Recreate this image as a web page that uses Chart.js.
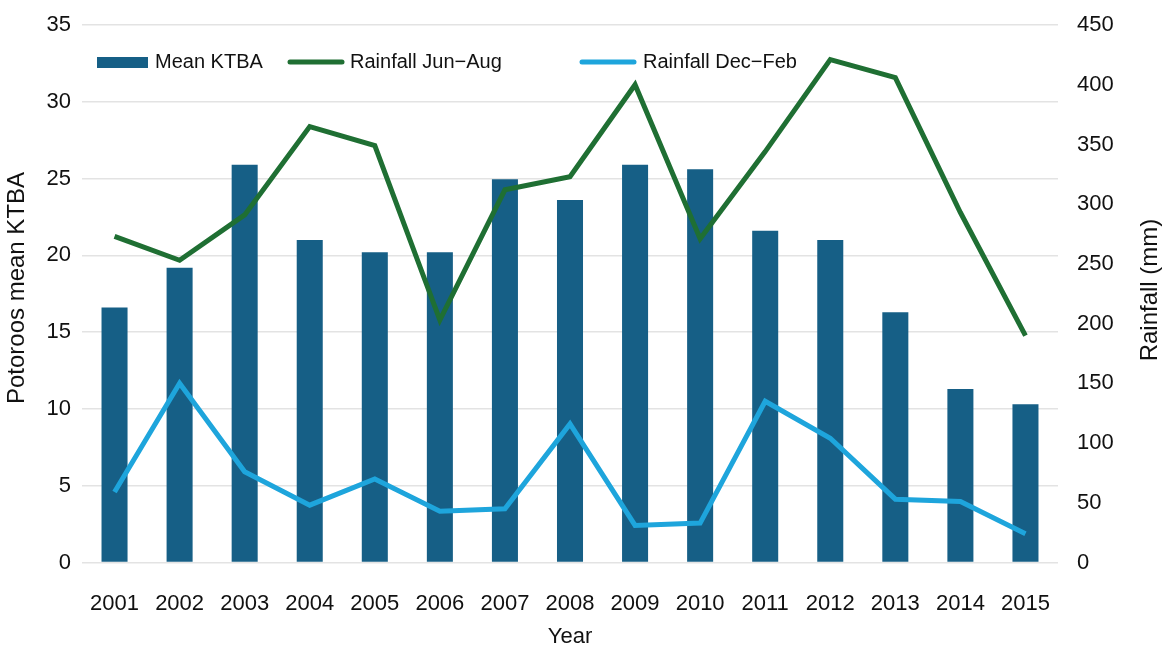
<!DOCTYPE html>
<html>
<head>
<meta charset="utf-8">
<script src="https://cdn.jsdelivr.net/npm/chart.js@4"></script>
<style>
  html, body { margin: 0; padding: 0; background: #fff; }
  #wrap { width: 1171px; height: 658px; }
</style>
</head>
<body>
<div id="wrap"><canvas id="myChart"></canvas></div>
<script>
var years = ["2001","2002","2003","2004","2005","2006","2007","2008","2009","2010","2011","2012","2013","2014","2015"];
var meanKTBA = [16.6, 19.2, 25.9, 21.0, 20.2, 20.2, 24.95, 23.6, 25.9, 25.6, 21.6, 21.0, 16.3, 11.3, 10.3];
var rainJunAug = [273, 253, 291, 365, 349, 203, 312, 323, 400, 271, 344, 421, 406, 293, 190];
var rainDecFeb = [59, 150, 76, 48, 70, 43, 45, 116, 31, 33, 135, 104, 53, 51, 24];
var leftTicks = [0, 5, 10, 15, 20, 25, 30, 35];
var rightTicks = [0, 50, 100, 150, 200, 250, 300, 350, 400, 450];

var barColor = "#165f86";
var greenColor = "#1f6f33";
var blueColor = "#1ea5dc";
var font = "'Liberation Sans', Arial, sans-serif";

// legend + axis titles drawn by hand so they sit where the original has them
var extras = {
  id: "extras",
  afterDraw: function (chart) {
    var ctx = chart.ctx;
    var a = chart.chartArea;
    var ds = chart.data.datasets;
    var bars = ds[2], jun = ds[0], dec = ds[1];
    ctx.save();
    ctx.textBaseline = "middle";
    ctx.font = "20px " + font;
    var ly = 62;
    // bar item
    ctx.fillStyle = bars.backgroundColor;
    ctx.fillRect(a.left + 15, ly - 5, 51, 11);
    ctx.fillStyle = "#111";
    ctx.fillText(bars.label, a.left + 73, ly);
    // line items
    var items = [[jun, a.left + 208, a.left + 268], [dec, a.left + 500, a.left + 561]];
    items.forEach(function (it) {
      ctx.strokeStyle = it[0].borderColor;
      ctx.lineWidth = 5;
      ctx.lineCap = "round";
      ctx.beginPath();
      ctx.moveTo(it[1], ly);
      ctx.lineTo(it[1] + 52, ly);
      ctx.stroke();
      ctx.fillText(it[0].label, it[2], ly);
    });
    // axis titles
    ctx.font = "24px " + font;
    ctx.textAlign = "center";
    ctx.save();
    ctx.translate(17, 288);
    ctx.rotate(-Math.PI / 2);
    ctx.fillText("Potoroos mean KTBA", 0, 0);
    ctx.restore();
    ctx.save();
    ctx.translate(1150, 290);
    ctx.rotate(-Math.PI / 2);
    ctx.fillText("Rainfall (mm)", 0, 0);
    ctx.restore();
    ctx.font = "22px " + font;
    ctx.fillText("Year", (a.left + a.right) / 2, 637);
    ctx.restore();
  }
};

function fitY(w) {
  return function (s) {
    s.width = w;
    s.paddingTop = 0;
    s.paddingBottom = 0;
  };
}

var ctx = document.getElementById("myChart").getContext("2d");
var myChart = new Chart(ctx, {
  type: "bar",
  data: {
    labels: years,
    datasets: [
      {
        type: "line",
        label: "Rainfall Jun\u2212Aug",
        data: rainJunAug,
        yAxisID: "y1",
        borderColor: greenColor,
        backgroundColor: greenColor,
        borderWidth: 5,
        pointRadius: 0,
        tension: 0,
        order: 1
      },
      {
        type: "line",
        label: "Rainfall Dec\u2212Feb",
        data: rainDecFeb,
        yAxisID: "y1",
        borderColor: blueColor,
        backgroundColor: blueColor,
        borderWidth: 5,
        pointRadius: 0,
        tension: 0,
        order: 1
      },
      {
        label: "Mean KTBA",
        data: meanKTBA,
        yAxisID: "y",
        backgroundColor: barColor,
        barPercentage: 0.4,
        categoryPercentage: 1.0,
        order: 2
      }
    ]
  },
  options: {
    responsive: true,
    maintainAspectRatio: false,
    animation: false,
    layout: { padding: { top: 25, left: 0, right: 0, bottom: 0 } },
    plugins: {
      legend: { display: false },
      tooltip: { enabled: false }
    },
    scales: {
      x: {
        grid: { display: false },
        border: { display: false },
        ticks: { color: "#111", font: { family: font, size: 22 }, padding: 20, maxRotation: 0 },
        afterFit: function (s) { s.height = 95.5; }
      },
      y: {
        position: "left",
        min: 0, max: 35,
        afterBuildTicks: function (s) { s.ticks = leftTicks.map(function (v) { return { value: v }; }); },
        grid: { color: "#e3e3e3", lineWidth: 1.5, drawTicks: false },
        border: { display: false },
        ticks: { color: "#111", font: { family: font, size: 22 }, padding: 11 },
        afterFit: fitY(82)
      },
      y1: {
        position: "right",
        min: 0, max: 450,
        afterBuildTicks: function (s) { s.ticks = rightTicks.map(function (v) { return { value: v }; }); },
        grid: { display: false, drawTicks: false },
        border: { display: false },
        ticks: { color: "#111", font: { family: font, size: 22 }, padding: 19 },
        afterFit: fitY(113)
      }
    }
  },
  plugins: [extras]
});
</script>
</body>
</html>
